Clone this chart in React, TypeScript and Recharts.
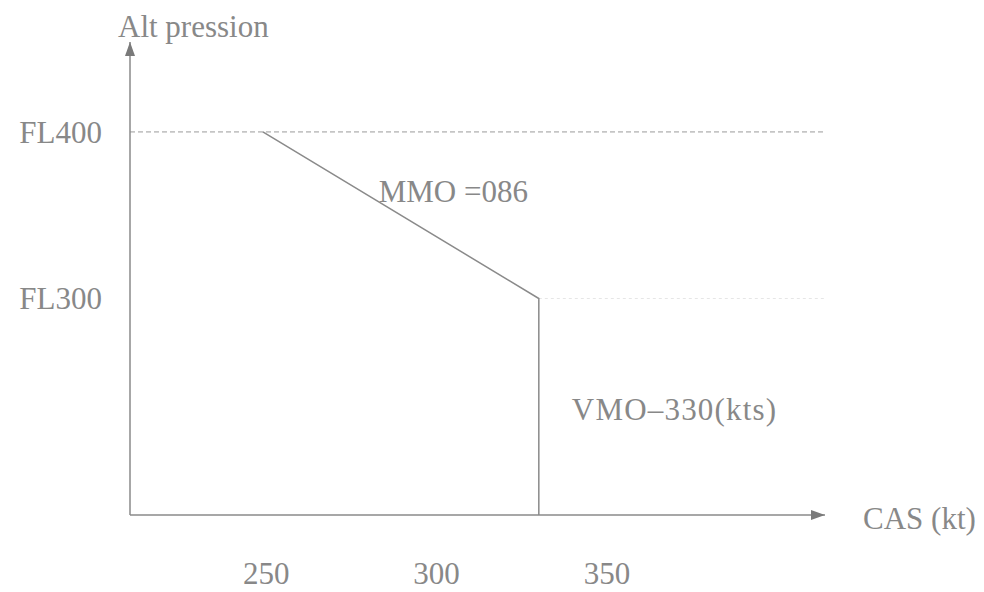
import React from 'react';
import { LineChart, Line, XAxis, YAxis, ReferenceLine, ReferenceDot } from 'recharts';

// Envelope (CAS in kt, pressure altitude in FL)
const casValues = [249, 330, 330];
const flValues = [400, 300, 170];
const xTicks = [250, 300, 350];
const yTicks = [300, 400];
const xDomain = [210, 414];
const yDomain = [170, 454];

const data = casValues.map((cas, i) => ({ cas, fl: flValues[i] }));

const FONT = '"Liberation Serif", "Times New Roman", serif';
const TEXT = '#888888';
const LINE = '#8a8a8a';
const FS = 31;

const makeText = (label: string, dx: number, dy: number, ls = 0) => (p: any) => (
  <text x={p.cx + dx} y={p.cy + dy} fill={TEXT} fontSize={FS} fontFamily={FONT} textAnchor="start" letterSpacing={ls}>
    {label}
  </text>
);

export default function App() {
  return (
    <div style={{ width: 976, height: 576, overflow: 'visible' }}>
      <LineChart
        width={976}
        height={584}
        data={data}
        margin={{ top: 34, right: 159, bottom: 8, left: 22 }}
      >
        <defs>
          <marker id="arrowHead" viewBox="0 0 14 10" refX="14" refY="5" markerWidth="14" markerHeight="10"
            markerUnits="userSpaceOnUse" orient="auto-start-reverse">
            <path d="M0,0 L14,5 L0,10 z" fill="#7a7a7a" />
          </marker>
        </defs>
        <XAxis
          dataKey="cas"
          type="number"
          domain={xDomain}
          ticks={xTicks}
          allowDataOverflow
          height={69}
          tickLine={false}
          tickSize={0}
          tickMargin={47}
          axisLine={{ stroke: LINE, strokeWidth: 1.5, markerEnd: 'url(#arrowHead)' }}
          tick={{ fill: TEXT, fontSize: FS, fontFamily: FONT }}
        />
        <YAxis
          type="number"
          domain={yDomain}
          ticks={yTicks}
          allowDataOverflow
          width={100}
          tickLine={false}
          tickSize={0}
          tickMargin={28}
          tickFormatter={(v: number) => `FL${v}`}
          axisLine={{ stroke: LINE, strokeWidth: 1.5, markerStart: 'url(#arrowHead)' }}
          tick={{ fill: TEXT, fontSize: FS, fontFamily: FONT }}
        />
        <ReferenceLine y={400} stroke="#9a9a9a" strokeDasharray="5 3" strokeWidth={1} ifOverflow="visible" />
        <ReferenceLine
          segment={[{ x: 330, y: 300 }, { x: 414, y: 300 }]}
          stroke="#e6e6e6"
          strokeDasharray="3 3"
          strokeWidth={1}
          ifOverflow="visible"
        />
        <Line
          dataKey="fl"
          type="linear"
          stroke={LINE}
          strokeWidth={1.5}
          dot={false}
          isAnimationActive={false}
        />
        <ReferenceDot x={210} y={454} r={0} ifOverflow="visible" shape={makeText('Alt pression', -12, -5)} />
        <ReferenceDot x={283} y={358} r={0} ifOverflow="visible" shape={makeText('MMO =086', 0, 0)} />
        <ReferenceDot x={330} y={227} r={0} ifOverflow="visible" shape={makeText('VMO\u2013330(kts)', 33, 0, 1.2)} />
        <ReferenceDot x={414} y={170} r={0} ifOverflow="visible" shape={makeText('CAS (kt)', 38, 14)} />
      </LineChart>
    </div>
  );
}
